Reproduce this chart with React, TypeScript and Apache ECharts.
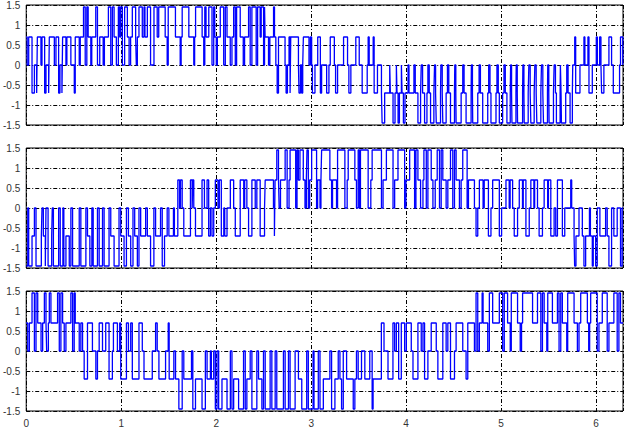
import { useEffect, useRef } from "react";
import * as echarts from "echarts";

// output voltage levels (code -2..2)
const LEVELS = [-1.45, -0.7, 0, 0.7, 1.45];
const X_MAX = 6.2832;
const Y_MIN = -1.5;
const Y_MAX = 1.5;

// switching instants [x, level code]
const phaseA: [number, number][] = [
  [0.000,1],[0.010,0],[0.026,1],[0.061,-1],[0.086,0],[0.110,-1],[0.117,1],[0.155,0],[0.166,1],[0.194,-1],[0.208,0],[0.236,-1],[0.243,1],[0.296,0],[0.313,1],[0.341,-1],[0.355,0],[0.376,-1],[0.383,1],[0.418,0],[0.428,1],[0.470,0],[0.506,-1],[0.516,1],[0.558,0],[0.569,1],[0.603,2],[0.621,0],[0.638,2],[0.652,1],[0.680,0],[0.690,1],[0.732,2],[0.750,0],[0.774,1],[0.810,0],[0.823,1],[0.865,2],[0.890,0],[0.907,2],[0.925,1],[0.949,0],[0.970,2],[0.984,1],[0.994,2],[1.012,0],[1.036,2],[1.065,1],[1.083,0],[1.099,1],[1.117,2],[1.152,1],[1.159,0],[1.170,1],[1.187,2],[1.222,1],[1.240,2],[1.250,1],[1.275,2],[1.309,0],[1.345,2],[1.379,1],[1.395,2],[1.463,1],[1.484,0],[1.495,2],[1.571,1],[1.621,0],[1.631,1],[1.642,2],[1.712,1],[1.764,0],[1.773,1],[1.783,2],[1.852,1],[1.869,0],[1.880,2],[1.893,1],[1.922,2],[1.956,0],[1.974,2],[1.985,1],[2.001,0],[2.012,1],[2.043,2],[2.079,0],[2.096,2],[2.114,1],[2.148,0],[2.166,1],[2.184,2],[2.201,0],[2.215,2],[2.253,1],[2.285,0],[2.299,1],[2.341,2],[2.358,0],[2.376,2],[2.421,0],[2.436,2],[2.463,1],[2.474,2],[2.499,0],[2.509,2],[2.515,1],[2.551,0],[2.565,1],[2.604,2],[2.614,1],[2.628,0],[2.642,-1],[2.656,1],[2.725,0],[2.736,-1],[2.750,0],[2.767,1],[2.778,-1],[2.785,1],[2.866,0],[2.872,-1],[2.887,0],[2.900,-1],[2.911,0],[2.918,1],[2.977,0],[2.992,1],[3.005,0],[3.013,-1],[3.040,0],[3.069,1],[3.097,-1],[3.110,0],[3.163,-1],[3.187,0],[3.201,1],[3.244,0],[3.257,-1],[3.278,0],[3.341,1],[3.383,0],[3.397,-1],[3.418,0],[3.470,1],[3.506,0],[3.537,-1],[3.590,0],[3.600,1],[3.611,0],[3.653,1],[3.663,-1],[3.698,0],[3.740,-1],[3.747,-2],[3.774,-1],[3.827,0],[3.834,-1],[3.862,-2],[3.883,-1],[3.897,0],[3.904,-1],[3.915,-2],[3.929,-1],[3.950,0],[3.957,-1],[3.971,-2],[3.988,-1],[4.020,0],[4.030,-1],
  [4.082,0],[4.096,-1],[4.124,-2],[4.152,-1],[4.159,0],[4.173,-1],[4.194,-2],[4.219,-1],[4.229,0],[4.243,-1],[4.257,-2],[4.292,-1],[4.299,0],[4.310,-1],[4.317,-2],[4.362,-1],[4.366,0],[4.380,-1],[4.386,-2],[4.421,-1],[4.435,0],[4.449,-1],[4.467,-2],[4.509,-1],[4.512,0],[4.523,-1],[4.526,-2],[4.579,-1],[4.596,0],[4.610,-1],[4.631,-2],[4.684,-1],[4.687,0],[4.698,-1],[4.701,-2],[4.754,-1],[4.768,0],[4.782,-1],[4.806,-2],[4.859,-1],[4.869,0],[4.883,-1],[4.893,-2],[4.946,-1],[4.956,0],[4.970,-1],[4.981,-2],[5.016,-1],[5.030,0],[5.044,-1],[5.061,-2],[5.096,-1],[5.100,0],[5.110,-1],[5.114,-2],[5.156,-1],[5.159,0],[5.170,-1],[5.173,-2],[5.226,-1],[5.229,0],[5.240,-1],[5.243,-2],[5.285,-1],[5.292,0],[5.306,-1],[5.313,-2],[5.348,-1],[5.355,0],[5.369,-1],[5.376,-2],[5.418,-1],[5.425,0],[5.439,-1],[5.446,-2],[5.488,-1],[5.491,0],[5.502,-1],[5.505,-2],[5.551,-1],[5.558,0],[5.572,-1],[5.582,-2],[5.621,-1],[5.624,0],[5.631,-1],[5.635,-2],[5.680,-1],[5.691,0],[5.705,-1],[5.726,-2],[5.750,-1],[5.754,0],[5.775,1],[5.785,-1],[5.830,0],[5.872,1],[5.882,0],[5.914,1],[5.925,-1],[5.960,0],[6.002,1],[6.013,0],[6.037,1],[6.051,0],[6.058,-1],[6.082,0],[6.135,1],[6.163,0],[6.181,-1],[6.247,0],[6.257,1],[6.281,0],
];

const phaseB: [number, number][] = [
  [0.000,-2],[0.016,0],[0.026,-2],[0.061,-1],[0.086,0],[0.103,-2],[0.159,-1],[0.166,0],[0.180,-1],[0.201,-2],[0.208,0],[0.230,-2],[0.268,-1],[0.274,0],[0.286,-2],[0.341,0],[0.358,-2],[0.386,0],[0.396,-2],[0.418,-1],[0.453,-2],[0.470,0],[0.488,-2],[0.558,0],[0.575,-2],[0.628,0],[0.645,-1],[0.670,-2],[0.691,0],[0.705,-2],[0.750,0],[0.768,-2],[0.803,0],[0.820,-2],[0.872,0],[0.890,-1],[0.925,-2],[0.977,0],[0.995,-1],[1.030,-2],[1.055,0],[1.076,-1],[1.100,-2],[1.124,0],[1.142,-1],[1.170,-2],[1.187,0],[1.205,-1],[1.257,0],[1.275,-1],[1.309,-2],[1.344,0],[1.362,-1],[1.414,0],[1.432,-2],[1.456,-1],[1.484,0],[1.502,-1],[1.550,0],[1.560,-1],[1.596,1],[1.614,0],[1.624,1],[1.642,0],[1.659,-1],[1.729,1],[1.747,0],[1.754,1],[1.764,0],[1.782,-1],[1.851,1],[1.876,0],
  [1.904,1],[1.921,-1],[1.939,0],[1.956,-1],[1.974,0],[1.991,1],[2.019,0],[2.033,1],[2.054,-1],[2.080,0],[2.090,-1],[2.114,0],[2.149,1],[2.184,0],[2.201,-1],[2.253,1],[2.290,0],[2.300,1],[2.323,0],[2.341,-1],[2.376,1],[2.411,0],[2.428,1],[2.463,-1],[2.509,0],[2.516,1],[2.603,0],[2.613,-1],[2.620,1],[2.638,2],[2.656,1],[2.663,0],[2.677,1],[2.726,2],[2.747,0],[2.767,1],[2.778,2],[2.837,0],[2.851,2],[2.865,1],[2.882,2],[2.917,1],[2.935,0],[2.949,1],[2.956,2],[2.970,0],[2.984,1],[3.005,2],[3.057,0],[3.068,1],[3.093,0],[3.103,1],[3.110,2],[3.197,1],[3.215,0],[3.225,1],[3.267,0],[3.278,2],[3.355,0],[3.379,1],[3.390,2],[3.460,1],[3.477,0],[3.495,2],[3.509,0],[3.519,2],[3.600,0],[3.628,1],[3.642,2],[3.740,0],[3.757,1],[3.792,2],[3.862,0],[3.879,1],[3.914,2],[3.984,0],[3.998,1],[4.037,2],
  [4.089,0],[4.103,2],[4.124,1],[4.152,0],[4.177,1],[4.187,2],[4.212,0],[4.229,2],[4.264,1],[4.282,0],[4.306,1],[4.327,2],[4.351,0],[4.369,2],[4.386,1],[4.421,0],[4.439,1],[4.467,2],[4.491,0],[4.509,2],[4.526,1],[4.561,0],[4.579,1],[4.596,2],[4.642,0],[4.656,1],[4.719,0],[4.736,-1],[4.754,0],[4.771,1],[4.810,0],[4.822,1],[4.866,-1],[4.893,0],[4.911,1],[4.981,-1],[5.005,0],[5.051,1],[5.085,0],[5.095,1],[5.121,0],[5.138,-1],[5.173,0],[5.191,1],[5.225,0],[5.233,1],[5.261,-1],[5.296,0],[5.313,1],[5.345,0],[5.353,1],[5.383,0],[5.400,-1],[5.435,0],[5.453,1],[5.490,0],[5.498,1],[5.523,-1],[5.558,0],[5.575,-1],[5.593,1],[5.645,-1],[5.670,0],[5.733,1],[5.743,0],[5.768,-1],[5.774,-2],[5.788,-1],[5.820,0],[5.855,-1],[5.872,-2],[5.890,-1],[5.930,0],[5.940,-1],[5.960,-2],[5.970,-1],[5.995,-2],[6.012,0],[6.040,-1],[6.100,0],[6.117,-1],[6.135,-2],[6.163,0],[6.187,-1],[6.222,0],[6.257,-2],[6.274,0],
];

const phaseC: [number, number][] = [
  [0.000,1],[0.016,0],[0.033,1],[0.061,2],[0.086,0],[0.103,2],[0.121,1],[0.156,0],[0.173,1],[0.191,2],[0.208,1],[0.215,0],[0.233,1],[0.243,2],[0.260,1],[0.330,2],[0.348,0],[0.365,2],[0.383,1],[0.400,0],[0.418,1],[0.470,2],[0.488,0],[0.505,2],[0.516,1],[0.558,0],[0.575,1],[0.593,0],[0.610,-1],[0.645,1],[0.697,0],[0.733,-1],[0.750,0],[0.768,1],[0.803,0],[0.837,1],[0.872,-1],[0.907,0],[0.918,1],[0.960,0],[0.984,1],[0.995,-1],[1.055,1],[1.076,0],[1.100,1],[1.117,-1],[1.187,1],[1.222,0],[1.240,-1],[1.327,0],[1.362,1],[1.379,0],[1.397,-1],[1.467,0],[1.495,1],[1.505,-1],[1.554,0],[1.572,-1],[1.607,-2],[1.642,0],[1.659,-1],[1.740,0],[1.754,-2],[1.782,-1],[1.851,-2],[1.886,0],[1.904,-1],[1.939,0],[1.949,-1],[1.974,0],[1.991,-2],[2.009,0],[2.026,-2],[2.061,-1],[2.114,-2],[2.149,0],[2.166,-2],[2.184,-1],[2.236,-2],[2.288,0],[2.306,-2],[2.323,-1],[2.358,0],[2.376,-2],[2.428,0],[2.446,-1],[2.481,-2],[2.498,0],[2.516,-2],[2.568,0],[2.586,-2],[2.621,0],[2.638,-2],[2.708,0],[2.726,-2],[2.761,0],[2.778,-2],[2.831,0],[2.866,-1],[2.901,-2],[2.953,0],[2.970,-2],[3.020,0],[3.030,-2],[3.075,0],[3.093,-2],[3.128,-1],[3.197,0],[3.215,-2],[3.250,-1],[3.285,0],[3.303,-1],[3.320,-2],[3.338,0],[3.373,-1],[3.443,-2],[3.460,-1],[3.477,0],[3.495,-1],[3.530,0],[3.565,-1],[3.617,0],[3.642,-2],[3.652,-1],[3.739,1],[3.767,0],[3.809,-1],[3.861,1],[3.879,0],[3.897,1],[3.921,-1],[3.949,1],[3.984,0],[4.002,1],
  [4.054,0],[4.072,-1],[4.124,1],[4.159,0],[4.177,1],[4.194,-1],[4.229,0],[4.264,1],[4.317,0],[4.334,-1],[4.386,1],[4.421,0],[4.439,1],[4.467,-1],[4.509,0],[4.526,1],[4.596,0],[4.631,-1],[4.649,1],[4.719,0],[4.736,2],[4.754,0],[4.771,1],[4.800,2],[4.810,1],[4.859,0],[4.876,2],[4.911,1],[4.981,2],[5.016,0],[5.033,2],[5.068,1],[5.096,0],[5.107,2],[5.173,1],[5.201,0],[5.215,1],[5.226,2],[5.331,1],[5.383,2],[5.418,0],[5.435,2],[5.453,1],[5.481,0],[5.491,2],[5.540,1],[5.593,2],[5.610,0],[5.628,2],[5.645,1],[5.691,0],[5.701,2],[5.768,1],[5.803,0],[5.820,1],[5.838,2],[5.908,1],[5.922,0],[5.932,1],[5.943,2],[6.012,0],[6.030,1],[6.065,2],[6.117,0],[6.135,1],[6.187,2],[6.222,0],[6.240,2],[6.257,1],
];

const PANELS = [phaseA, phaseB, phaseC];
const PANEL_TOPS = [5, 148, 291];
const DASH_DOT = [4, 2, 1, 2];

function toSteps(p: [number, number][]) {
  const d = p.map(([x, c]) => [x, LEVELS[c + 2]]);
  d.push([X_MAX, d[d.length - 1][1]]);
  return d;
}

export default function App() {
  const ref = useRef<HTMLDivElement>(null);
  useEffect(() => {
    if (!ref.current) return;
    const chart = echarts.init(ref.current, undefined, { renderer: "svg" });
    const font = { fontFamily: "'Liberation Sans', Arial, sans-serif", fontSize: 10, color: "#333" };
    const split = { show: true, lineStyle: { color: "#000", width: 1, type: DASH_DOT } };
    chart.setOption({
      animation: false,
      backgroundColor: "#fff",
      grid: PANEL_TOPS.map((t) => ({
        left: 23, top: t, width: 600, height: 120,
        show: true, borderColor: "#000", borderWidth: 1, backgroundColor: "transparent",
      })),
      xAxis: PANEL_TOPS.map((_, i) => ({
        type: "value", gridIndex: i, min: 0, max: X_MAX, interval: 1,
        axisLine: { show: false }, axisTick: { show: false },
        axisLabel: { show: i === 2, margin: 7, showMaxLabel: false, ...font },
        splitLine: split,
      })),
      yAxis: PANEL_TOPS.map((_, i) => ({
        type: "value", gridIndex: i, min: Y_MIN, max: Y_MAX, interval: 0.5,
        axisLine: { show: false }, axisTick: { show: false },
        axisLabel: { margin: 6, ...font },
        splitLine: split,
      })),
      series: PANELS.map((p, i) => ({
        type: "line", xAxisIndex: i, yAxisIndex: i, step: "end",
        data: toSteps(p), symbol: "none", showSymbol: false,
        lineStyle: { color: "#0000ff", width: 1.3 }, silent: true,
      })),
    });
    return () => chart.dispose();
  }, []);
  return <div ref={ref} style={{ position: "fixed", left: 0, top: 0, width: 625, height: 432, background: "#fff" }} />;
}
